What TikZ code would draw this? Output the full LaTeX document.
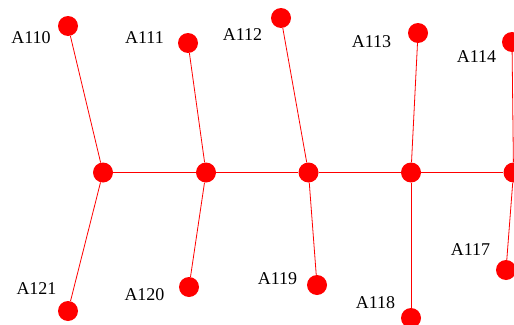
\documentclass[tikz,border=0pt]{standalone}
\usepackage{fontspec}
\setmainfont{Liberation Serif}

\begin{document}
\begin{tikzpicture}[
        x=1pt, y=-1pt,
        vertex/.style={circle, fill=red, draw=none, minimum size=20pt, inner sep=0pt},
        lbl/.style={font=\fontsize{18}{20}\selectfont, inner sep=0pt},
        edge/.style={draw=red, line width=0.8pt}
    ]
    \useasboundingbox (0,0) rectangle (514,324);
    \clip (0,0) rectangle (514,324);

    % hubs on the spine
    \node[vertex] (h1) at (103,172.5) {};
    \node[vertex] (h2) at (206,172.5) {};
    \node[vertex] (h3) at (308.5,172.5) {};
    \node[vertex] (h4) at (411,172.5) {};
    \node[vertex] (h5) at (513.5,172.5) {};

    % leaves
    \node[vertex] (a110) at (68,26) {};
    \node[vertex] (a111) at (188,43) {};
    \node[vertex] (a112) at (281,18) {};
    \node[vertex] (a113) at (418,33) {};
    \node[vertex] (a114) at (512,42) {};
    \node[vertex] (a121) at (68,311) {};
    \node[vertex] (a120) at (189,287) {};
    \node[vertex] (a119) at (317,285) {};
    \node[vertex] (a118) at (411,318) {};
    \node[vertex] (a117) at (506,270) {};

    % labels
    \node[lbl] (l110) at (31,38) {A110};
    \node[lbl] (l111) at (144.5,38) {A111};
    \node[lbl] (l112) at (242.5,35) {A112};
    \node[lbl] (l113) at (371.5,42) {A113};
    \node[lbl] (l114) at (476.5,57) {A114};
    \node[lbl] (l121) at (36.5,289) {A121};
    \node[lbl] (l120) at (144.5,295) {A120};
    \node[lbl] (l119) at (277.5,279) {A119};
    \node[lbl] (l118) at (375.5,303) {A118};
    \node[lbl] (l117) at (470.5,250) {A117};

    \draw[edge] (h1) -- (h2);
    \draw[edge] (h2) -- (h3);
    \draw[edge] (h3) -- (h4);
    \draw[edge] (h4) -- (h5);
    \draw[edge] (h1) -- (a110);
    \draw[edge] (h1) -- (a121);
    \draw[edge] (h2) -- (a111);
    \draw[edge] (h2) -- (a120);
    \draw[edge] (h3) -- (a112);
    \draw[edge] (h3) -- (a119);
    \draw[edge] (h4) -- (a113);
    \draw[edge] (h4) -- (a118);
    \draw[edge] (h5) -- (a114);
    \draw[edge] (h5) -- (a117);
\end{tikzpicture}
\end{document}
